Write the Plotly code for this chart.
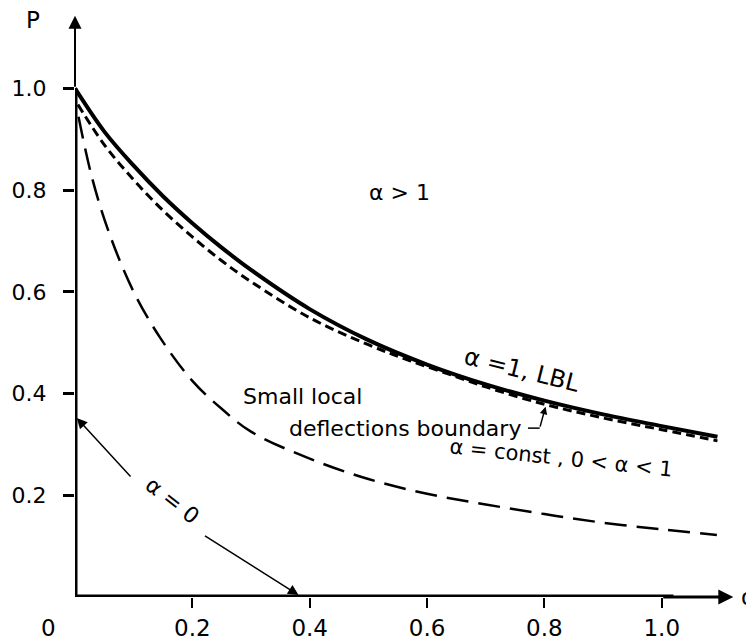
import plotly.graph_objects as go

# ---- data ----
lbl_alpha = [0, 0.05, 0.1, 0.15, 0.2, 0.25, 0.3, 0.4, 0.5, 0.6, 0.7, 0.8, 0.9, 1.0, 1.095]
lbl_P     = [1.0, 0.915, 0.848, 0.788, 0.735, 0.687, 0.643, 0.566, 0.505, 0.457, 0.418, 0.386, 0.359, 0.336, 0.315]

sld_alpha = [0.005, 0.05, 0.1, 0.15, 0.2, 0.25, 0.3, 0.4, 0.5, 0.57, 0.65, 0.7, 0.8, 0.9, 1.0, 1.095]
sld_P     = [0.968, 0.889, 0.82, 0.76, 0.708, 0.661, 0.62, 0.549, 0.496, 0.465, 0.433, 0.413, 0.379, 0.352, 0.329, 0.307]

const_alpha = [0.006, 0.03, 0.06, 0.1, 0.145, 0.2, 0.25, 0.3, 0.4, 0.5, 0.6, 0.7, 0.8, 0.9, 1.0, 1.094]
const_P     = [0.944, 0.82, 0.71, 0.6, 0.51, 0.425, 0.37, 0.325, 0.272, 0.232, 0.203, 0.182, 0.163, 0.146, 0.133, 0.122]

x_ticks = [0.2, 0.4, 0.6, 0.8, 1.0]
x_tick_text = ["0.2", "0.4", "0.6", "0.8", "1.0"]
y_ticks = [0.2, 0.4, 0.6, 0.8, 1.0]
y_tick_text = ["0.2", "0.4", "0.6", "0.8", "1.0"]

FONT = "DejaVu Sans"
BLACK = "black"

fig = go.Figure()
fig.add_trace(go.Scatter(x=lbl_alpha, y=lbl_P, mode="lines", line=dict(color=BLACK, width=4, shape="spline"), hoverinfo="skip"))
fig.add_trace(go.Scatter(x=sld_alpha, y=sld_P, mode="lines", line=dict(color=BLACK, width=3, dash="9px,5px", shape="spline"), hoverinfo="skip"))
fig.add_trace(go.Scatter(x=const_alpha, y=const_P, mode="lines", line=dict(color=BLACK, width=2.5, dash="22px,10px", shape="spline"), hoverinfo="skip"))

shapes = [
    dict(type="line", xref="x", yref="y", x0=0, x1=0, y0=0, y1=1.0, line=dict(color=BLACK, width=5)),
    dict(type="line", xref="x", yref="y", x0=0, x1=1.02, y0=0, y1=0, line=dict(color=BLACK, width=5)),
    dict(type="line", xref="x", yref="y", x0=0.772, x1=0.792, y0=0.332, y1=0.332, line=dict(color=BLACK, width=1.5)),
]

ann = []
def arrow(x, y, ax, ay, width=2, size=1.2, head=2):
    ann.append(dict(x=x, y=y, ax=ax, ay=ay, xref="x", yref="y", axref="x", ayref="y",
                    text="", showarrow=True, arrowhead=head, arrowsize=size,
                    arrowwidth=width, arrowcolor=BLACK))

# axis arrows
arrow(0, 1.143, 0, 1.0, width=2, size=1.3)
arrow(1.122, 0, 1.0, 0, width=3, size=1.0)
# alpha = 0 arrows
arrow(0.003, 0.352, 0.097, 0.234, width=1.5, size=1.4)
arrow(0.381, 0.004, 0.219, 0.122, width=1.5, size=1.4)
# hook pointer to the boundary curve
arrow(0.802, 0.374, 0.792, 0.332, width=1.5, size=1.0)

def label(text, x, y, size=20, angle=0, ref="x"):
    ann.append(dict(x=x, y=y, xref="x" if ref == "x" else "paper", yref="y" if ref == "x" else "paper",
                    text=text, showarrow=False, textangle=angle,
                    xanchor="center", yanchor="middle",
                    font=dict(family=FONT, size=size, color=BLACK)))

label("α > 1", 0.553, 0.796, size=22)
label("α =1, LBL", 0.761, 0.446, size=24, angle=14)
label("Small local", 0.388, 0.395, size=22)
label("deflections boundary", 0.562, 0.332, size=22)
label("α = const , 0 < α < 1", 0.828, 0.273, size=21, angle=6)
label("α = 0", 0.166, 0.19, size=22, angle=38)
label("P", -0.0633, 0.9796, size=23, ref="paper")
label("0", -0.0407, -0.0526, size=23, ref="paper")
label("α", 1.016, 0.0, size=23, ref="paper")

fig.update_layout(
    width=754, height=641,
    margin=dict(l=67, r=24, t=0, b=52),
    paper_bgcolor="white", plot_bgcolor="white",
    showlegend=False,
    shapes=shapes, annotations=ann,
    xaxis=dict(range=[0, 1.13], showgrid=False, zeroline=False, showline=False, automargin=False,
               tickvals=x_ticks, ticktext=x_tick_text, ticks="outside", ticklen=10,
               tickwidth=2, tickcolor=BLACK, ticklabelstandoff=0,
               tickfont=dict(family=FONT, size=23, color=BLACK), fixedrange=True),
    yaxis=dict(range=[0, 1.158], showgrid=False, zeroline=False, showline=False, automargin=False,
               tickvals=y_ticks, ticktext=y_tick_text, ticks="outside", ticklen=11,
               tickwidth=2.5, tickcolor=BLACK, ticklabelstandoff=12,
               tickfont=dict(family=FONT, size=22, color=BLACK), fixedrange=True),
)

fig.write_html("out.html")
